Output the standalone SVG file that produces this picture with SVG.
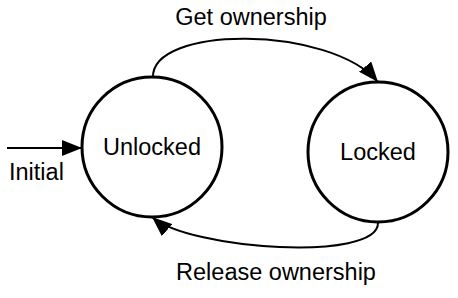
<svg xmlns="http://www.w3.org/2000/svg" width="458" height="298" viewBox="0 0 458 298">
<defs>
<style>
.state{fill:#fff;stroke:#000;stroke-width:3}
.edge{fill:none;stroke:#000;stroke-width:2}
text{font-family:"Liberation Sans",Arial,sans-serif;font-size:23.5px;fill:#000}
</style>
<marker id="arr" markerWidth="20" markerHeight="16" refX="20" refY="8" orient="auto" markerUnits="userSpaceOnUse">
<path d="M0,0 L20,8 L0,16 Z" fill="#000"/>
</marker>
</defs>
<rect width="458" height="298" fill="#fff"/>
<g id="connectors">
<path class="edge" d="M7,148 L82,148" marker-end="url(#arr)"/>
<path class="edge" d="M153,78 C150,25 330,25 378,82" marker-end="url(#arr)"/>
<path class="edge" d="M378,223 C378,262 190,250 152,217" marker-end="url(#arr)"/>
</g>
<g id="label-initial"><text x="9" y="180">Initial</text></g>
<g id="label-get"><text x="251" y="25" text-anchor="middle">Get ownership</text></g>
<g id="label-release"><text x="276" y="280" text-anchor="middle">Release ownership</text></g>
<g id="unlocked">
<circle class="state" cx="152" cy="147" r="70"/>
<text x="152" y="155" text-anchor="middle">Unlocked</text>
</g>
<g id="locked">
<circle class="state" cx="378" cy="152" r="70"/>
<text x="378" y="160" text-anchor="middle">Locked</text>
</g>
</svg>
